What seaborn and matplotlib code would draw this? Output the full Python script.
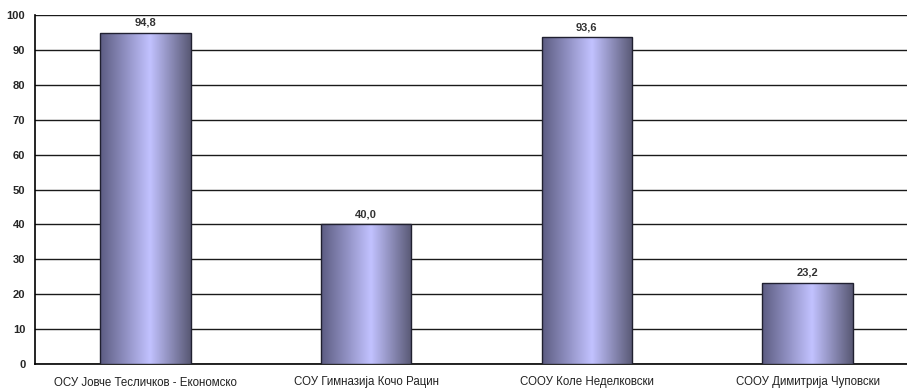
import numpy as np
import pandas as pd
import seaborn as sns
import matplotlib
matplotlib.use('Agg')
import matplotlib.pyplot as plt
from matplotlib.colors import LinearSegmentedColormap

schools = ['ОСУ Јовче Тесличков - Економско', 'СОУ Гимназија Кочо Рацин',
           'СООУ Коле Неделковски', 'СООУ Димитрија Чуповски']
values = [94.8, 40.0, 93.6, 23.2]

df = pd.DataFrame({'school': schools, 'value': values})

sns.set_style('white')
plt.rcParams['font.family'] = ['Liberation Sans', 'DejaVu Sans']

fig = plt.figure(figsize=(9.07, 3.89), dpi=100)
# right edge of the plot is cut off in the original
ax = fig.add_axes([35 / 907, 1 - 364 / 389, 883 / 907, 349 / 389])

sns.barplot(data=df, x='school', y='value', ax=ax, width=0.41,
            color='#a0a0e0', edgecolor='#202030', linewidth=1.0, zorder=3)

# horizontal gradient fill for bars
cmap = LinearSegmentedColormap.from_list(
    'bar', [(0, '#5c5c82'), (0.55, '#c2c2ff'), (1, '#585874')])
grad = np.linspace(0, 1, 256).reshape(1, -1)
for p in ax.patches:
    x0, y0 = p.get_x(), p.get_y()
    w, h = p.get_width(), p.get_height()
    im = ax.imshow(grad, cmap=cmap, aspect='auto', extent=[x0, x0 + w, y0, y0 + h],
                   zorder=3.5, interpolation='bilinear')
    im.set_clip_path(p)
    p.set_facecolor('none')
    p.set_zorder(4)

ax.set_xlim(-0.5, 3.5)
ax.set_ylim(0, 100)
ax.set_yticks(range(0, 101, 10))
ax.yaxis.grid(True, color='#1a1a1a', linewidth=1.0, zorder=0)
ax.set_axisbelow(True)

for i, v in enumerate(values):
    ax.text(i, v + 1.5, f'{v:.1f}'.replace('.', ','), ha='center', va='bottom',
            fontsize=8, fontweight='semibold', color='#333333')

ax.set_xlabel('')
ax.set_ylabel('')
ax.set_xticks([0.5, 1.5, 2.5], minor=True)
ax.set_xticks(range(4))
ax.set_xticklabels(schools, fontsize=8.3, color='#222222')
ax.tick_params(axis='x', which='major', length=0, pad=9)
ax.tick_params(axis='x', which='minor', length=4, width=1, color='black', direction='out')
ax.tick_params(axis='y', length=4, width=1, color='black', direction='out', labelsize=8, pad=3)
for lab in ax.get_yticklabels():
    lab.set_fontweight('bold')

ax.spines['top'].set_visible(False)
ax.spines['right'].set_visible(False)
ax.spines['left'].set_color('black')
ax.spines['bottom'].set_color('black')
ax.spines['left'].set_linewidth(1.2)
ax.spines['bottom'].set_linewidth(1.2)

fig.savefig('out.png', dpi=100)
